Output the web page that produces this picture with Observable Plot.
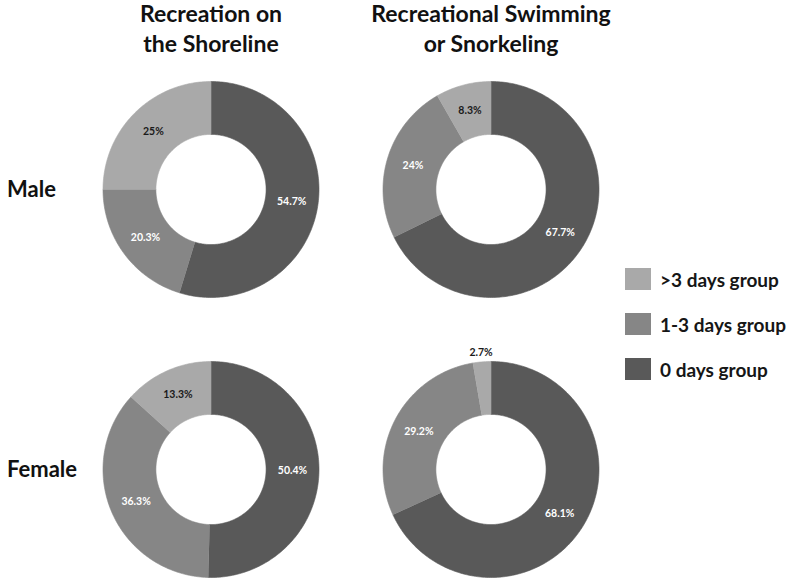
<!DOCTYPE html>
<html><head><meta charset="utf-8">
<script src="https://cdn.jsdelivr.net/npm/d3@7"></script>
<script src="https://cdn.jsdelivr.net/npm/@observablehq/plot@0.6"></script>
<style>
body{margin:0;background:#fff;font-family:Lato,"Open Sans",sans-serif;}
#wrap{position:relative;width:790px;height:586px;overflow:hidden;}
#wrap svg{display:block;font-family:Lato,"Open Sans",sans-serif;}
#legend{position:absolute;left:625px;top:268px;}
.item{display:flex;align-items:center;height:22px;margin-bottom:23px;font-weight:700;font-size:19px;color:#161616;white-space:nowrap;}
.sw{width:26px;height:22px;margin-right:9px;flex:none;}
</style></head><body><div id="wrap"></div>
<script>
const activities = ["Recreation on\nthe Shoreline", "Recreational Swimming\nor Snorkeling"];
const genders = ["Male", "Female"];
const groups = ["0 days group", "1-3 days group", ">3 days group"];
const colors = ["#595959", "#868686", "#a9a9a9"];
const legendOrder = [">3 days group", "1-3 days group", "0 days group"];
// values in group order: 0 days, 1-3 days, >3 days (percent)
const shorelineMale = [54.7, 20.3, 25];
const swimmingMale = [67.7, 24, 8.3];
const shorelineFemale = [50.4, 36.3, 13.3];
const swimmingFemale = [68.1, 29.2, 2.7];

const panels = [
  {activity: activities[0], gender: "Male", values: shorelineMale},
  {activity: activities[1], gender: "Male", values: swimmingMale},
  {activity: activities[0], gender: "Female", values: shorelineFemale},
  {activity: activities[1], gender: "Female", values: swimmingFemale}
];

const R_IN = 0.51;
const E = 115 / 108;
const pts = [];
const labels = [];
panels.forEach((p, pi) => {
  let cum = 0;
  p.values.forEach((v, gi) => {
    const a0 = 2 * Math.PI * cum / 100;
    const a1 = 2 * Math.PI * (cum + v) / 100;
    const id = pi + "-" + gi;
    const n = Math.max(2, Math.ceil((a1 - a0) / (Math.PI / 180)));
    for (let i = 0; i <= n; i++) {
      const a = a0 + (a1 - a0) * i / n;
      pts.push({id, activity: p.activity, gender: p.gender, group: groups[gi], x: Math.sin(a), y: Math.cos(a)});
    }
    for (let i = n; i >= 0; i--) {
      const a = a0 + (a1 - a0) * i / n;
      pts.push({id, activity: p.activity, gender: p.gender, group: groups[gi], x: R_IN * Math.sin(a), y: R_IN * Math.cos(a)});
    }
    const am = (a0 + a1) / 2;
    const outside = v < 5;
    const r = outside ? 1.09 : (1 + R_IN) / 2;
    labels.push({activity: p.activity, gender: p.gender, x: r * Math.sin(am), y: r * Math.cos(am),
      text: v + "%", color: (outside || gi === 2) ? "#1a1a1a" : "#ffffff"});
    cum += v;
  });
});

const chart = Plot.plot({
  width: 790, height: 586,
  marginLeft: 95.5, marginRight: 184.5, marginTop: 74, marginBottom: 2,
  style: {fontFamily: "Lato, 'Open Sans', sans-serif", background: "white"},
  x: {domain: [-E, E], axis: null},
  y: {domain: [-E, E], axis: null},
  fx: {domain: activities, paddingInner: 50 / 280, paddingOuter: 0, axis: null, round: false},
  fy: {domain: genders, paddingInner: 50 / 280, paddingOuter: 0, axis: null, round: false},
  color: {domain: groups, range: colors},
  marks: [
    Plot.line(pts, {x: "x", y: "y", z: "id", fill: "group", stroke: "group", strokeWidth: 0.6, fx: "activity", fy: "gender", curve: "linear"}),
    Plot.text(labels, {x: "x", y: "y", text: "text", fx: "activity", fy: "gender", fill: d => d.color, fontSize: 10.5, fontWeight: 700}),
    Plot.text(activities, {fx: d => d, fy: () => "Male", text: d => d, frameAnchor: "top", lineAnchor: "top", dy: -74, fontSize: 23, fontWeight: 700, lineHeight: 1.3, fill: "#111"}),
    Plot.text(genders, {fy: d => d, fx: () => activities[0], text: d => d, frameAnchor: "left", textAnchor: "start", dx: -89, fontSize: 22, fontWeight: 700, fill: "#111"})
  ]
});
const wrap = document.getElementById("wrap");
wrap.appendChild(chart);

const legend = document.createElement("div");
legend.id = "legend";
legendOrder.forEach(g => {
  const item = document.createElement("div");
  item.className = "item";
  const sw = document.createElement("span");
  sw.className = "sw";
  sw.style.background = colors[groups.indexOf(g)];
  item.appendChild(sw);
  item.appendChild(document.createTextNode(g));
  legend.appendChild(item);
});
wrap.appendChild(legend);
</script>
</body></html>
